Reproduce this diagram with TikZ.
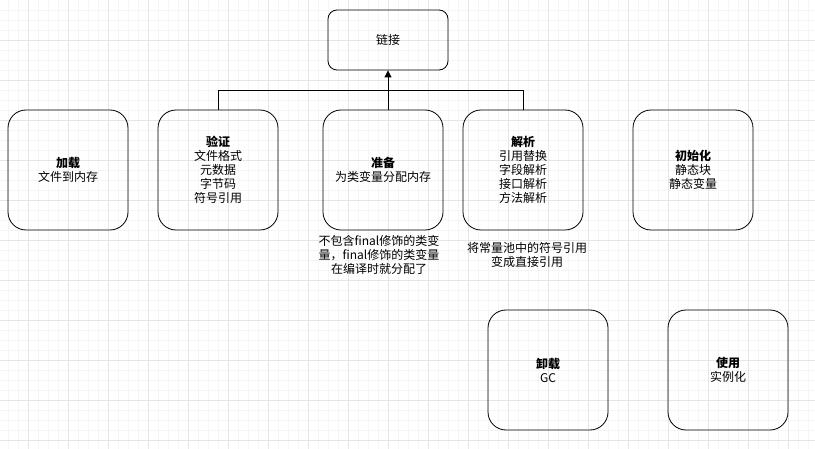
\documentclass[tikz,border=0pt]{standalone}
\usepackage{fontspec}
\setmainfont{Noto Sans CJK SC}
\usetikzlibrary{arrows.meta}
\begin{document}
\begin{tikzpicture}[x=1pt,y=-1pt]
\tikzstyle{every node}+=[inner sep=0pt, font=\fontsize{12}{14}\selectfont]
\tikzstyle{stage}=[draw=black, line width=0.8pt, rounded corners=18pt, minimum width=120pt, minimum height=120pt, align=center]
\tikzstyle{note}=[align=center]
\useasboundingbox (0,0) rectangle (815,449);
\fill [white] (0,0) rectangle (815,449);
\foreach \x in {8,18,...,808} \draw [black!4, line width=0.7pt] (\x,0) -- (\x,449);
\foreach \y in {10,20,...,440} \draw [black!4, line width=0.7pt] (0,\y) -- (815,\y);
\foreach \x in {28,68,...,808} \draw [black!10, line width=0.7pt] (\x,0) -- (\x,449);
\foreach \y in {40,80,...,440} \draw [black!10, line width=0.7pt] (0,\y) -- (815,\y);
\node [stage, minimum height=60pt, rounded corners=9pt] (lianjie) at (388,40) {链接};
\node [stage] (jiazai) at (68,170) {\textbf{加载}\\文件到内存};
\node [stage] (yanzheng) at (218,170) {\textbf{验证}\\文件格式\\元数据\\字节码\\符号引用};
\node [stage] (zhunbei) at (383,170) {\textbf{准备}\\为类变量分配内存};
\node [stage] (jiexi) at (523,170) {\textbf{解析}\\引用替换\\字段解析\\接口解析\\方法解析};
\node [stage] (chushihua) at (693,170) {\textbf{初始化}\\静态块\\静态变量};
\node [stage] (xiezai) at (548,370) {\textbf{卸载}\\GC};
\node [stage] (shiyong) at (728,370) {\textbf{使用}\\实例化};
\node [note] (zhunbeinote) at (379,255) {不包含final修饰的类变\\量，final修饰的类变量\\在编译时就分配了};
\node [note] (jiexinote) at (527,255) {将常量池中的符号引用\\变成直接引用};
\coordinate (merge) at (388,90);
\draw [line width=0.8pt] (yanzheng.north) |- (merge);
\draw [line width=0.8pt] (jiexi.north) |- (merge);
\draw [line width=0.8pt, -{Triangle[length=7pt,width=7pt]}] (zhunbei.north -| lianjie.south) -- (lianjie.south);
\end{tikzpicture}
\end{document}
